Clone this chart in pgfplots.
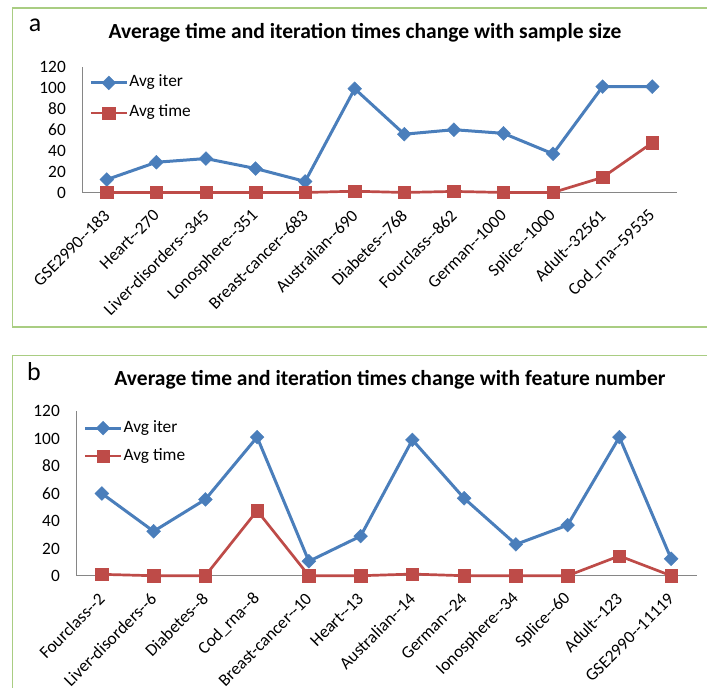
\documentclass[border=0pt]{standalone}
\usepackage{fontspec}
\setmainfont{Carlito}
\usepackage{pgfplots}
\usepackage{pgfplotstable}
\pgfplotsset{compat=1.18}

\definecolor{iterblue}{HTML}{4A7EBB}
\definecolor{timered}{HTML}{BE4B48}
\definecolor{framegreen}{HTML}{A9CD82}
\definecolor{axisgray}{HTML}{868686}

% (a) datasets ordered by sample size
\pgfplotstableread{
idx iter time
0  12.5  0.2
1  29    0.2
2  32.5  0.2
3  23    0.2
4  10.7  0.2
5  99    1.4
6  55.7  0.2
7  60    1.2
8  56.5  0.2
9  37    0.2
10 101   14.6
11 101   47.5
}\bysamples

% (b) datasets ordered by feature number
\pgfplotstableread{
idx iter time
0  60    1.2
1  32.5  0.2
2  55.7  0.2
3  101   47.5
4  10.7  0.2
5  29    0.2
6  99    1.4
7  56.5  0.2
8  23    0.2
9  37    0.2
10 101   14.6
11 12.5  0.2
}\byfeatures

\newcommand{\ticksize}{\fontsize{17.4}{21}\selectfont}

\pgfplotsset{
  panel/.style={
    scale only axis, clip=false,
    xmin=-0.5, xmax=11.5, ymin=0, ymax=120,
    xtick={0,...,11}, ytick={0,20,...,120},
    axis x line*=bottom, axis y line*=left,
    axis line style={axisgray, line width=1bp},
    major tick length=0pt,
    /pgf/number format/assume math mode=true,
    yticklabel style={font=\ticksize, inner sep=0pt, xshift=-16bp},
    xticklabel style={font=\ticksize, rotate=45, anchor=east, inner sep=0pt},
    xticklabel shift=20bp,
    legend cell align=left,
    legend style={draw=none, fill=none, inner sep=0pt, font=\ticksize,
      nodes={inner sep=1bp, text height=12bp, text depth=4bp}},
    legend image code/.code={
      \draw[#1, mark repeat=2, mark phase=2]
        plot coordinates {(0bp,0bp) (18bp,0bp) (36bp,0bp)};},
  },
  iterline/.style={iterblue, line width=3bp, mark=square*, mark size=4.9bp,
    mark options={rotate=45, fill=iterblue, draw=iterblue, line width=0.4bp}},
  timeline/.style={timered, line width=2.7bp, mark=square*, mark size=6.2bp,
    mark options={fill=timered, draw=timered, line width=0.4bp}},
}

\begin{document}
\begin{tikzpicture}[x=1bp, y=1bp]
\useasboundingbox (0,0) rectangle (707,688);

% panel frames
\draw[framegreen, line width=1.5bp] (707,680) -- (12.5,680) -- (12.5,361) -- (707,361);
\draw[framegreen, line width=1.5bp] (707,332.5) -- (12.5,332.5) -- (12.5,0);

\node[font=\fontsize{26}{30}\selectfont] at (35,663) {a};
\node[font=\fontsize{26}{30}\selectfont] at (34,316) {b};

\node[font=\bfseries\fontsize{21.6}{24}\selectfont] at (365,655)
  {Average time and iteration times change with sample size};
\node[font=\bfseries\fontsize{21.6}{24}\selectfont] at (390,308)
  {Average time and iteration times change with feature number};

\begin{axis}[panel,
  at={(82bp,495.3bp)}, anchor=south west,
  width=595bp, height=126bp,
  xticklabels={GSE2990-{}-183, Heart-{}-270, Liver-disorders-{}-345,
    Lonosphere-{}-351, Breast-cancer-{}-683, Australian-{}-690,
    Diabetes-{}-768, Fourclass-{}-862, German-{}-1000, Splice-{}-1000,
    Adult-{}-32561, Cod\_rna-{}-59535},
  legend style={at={(axis description cs:0.012,0.944)}, anchor=north west,
    row sep=12bp},
]
\addplot[iterline] table[x=idx, y=iter] {\bysamples};
\addlegendentry{Avg iter}
\addplot[timeline] table[x=idx, y=time] {\bysamples};
\addlegendentry{Avg time}
\end{axis}

\begin{axis}[panel,
  at={(76bp,112bp)}, anchor=south west,
  width=621bp, height=165bp,
  xticklabels={Fourclass-{}-2, Liver-disorders-{}-6, Diabetes-{}-8,
    Cod\_rna-{}-8, Breast-cancer-{}-10, Heart-{}-13, Australian-{}-14,
    German-{}-24, Ionosphere-{}-34, Splice-{}-60, Adult-{}-123,
    GSE2990-{}-11119},
  legend style={at={(axis description cs:0.012,0.952)}, anchor=north west,
    row sep=10bp},
]
\addplot[iterline] table[x=idx, y=iter] {\byfeatures};
\addlegendentry{Avg iter}
\addplot[timeline] table[x=idx, y=time] {\byfeatures};
\addlegendentry{Avg time}
\end{axis}
\end{tikzpicture}
\end{document}
